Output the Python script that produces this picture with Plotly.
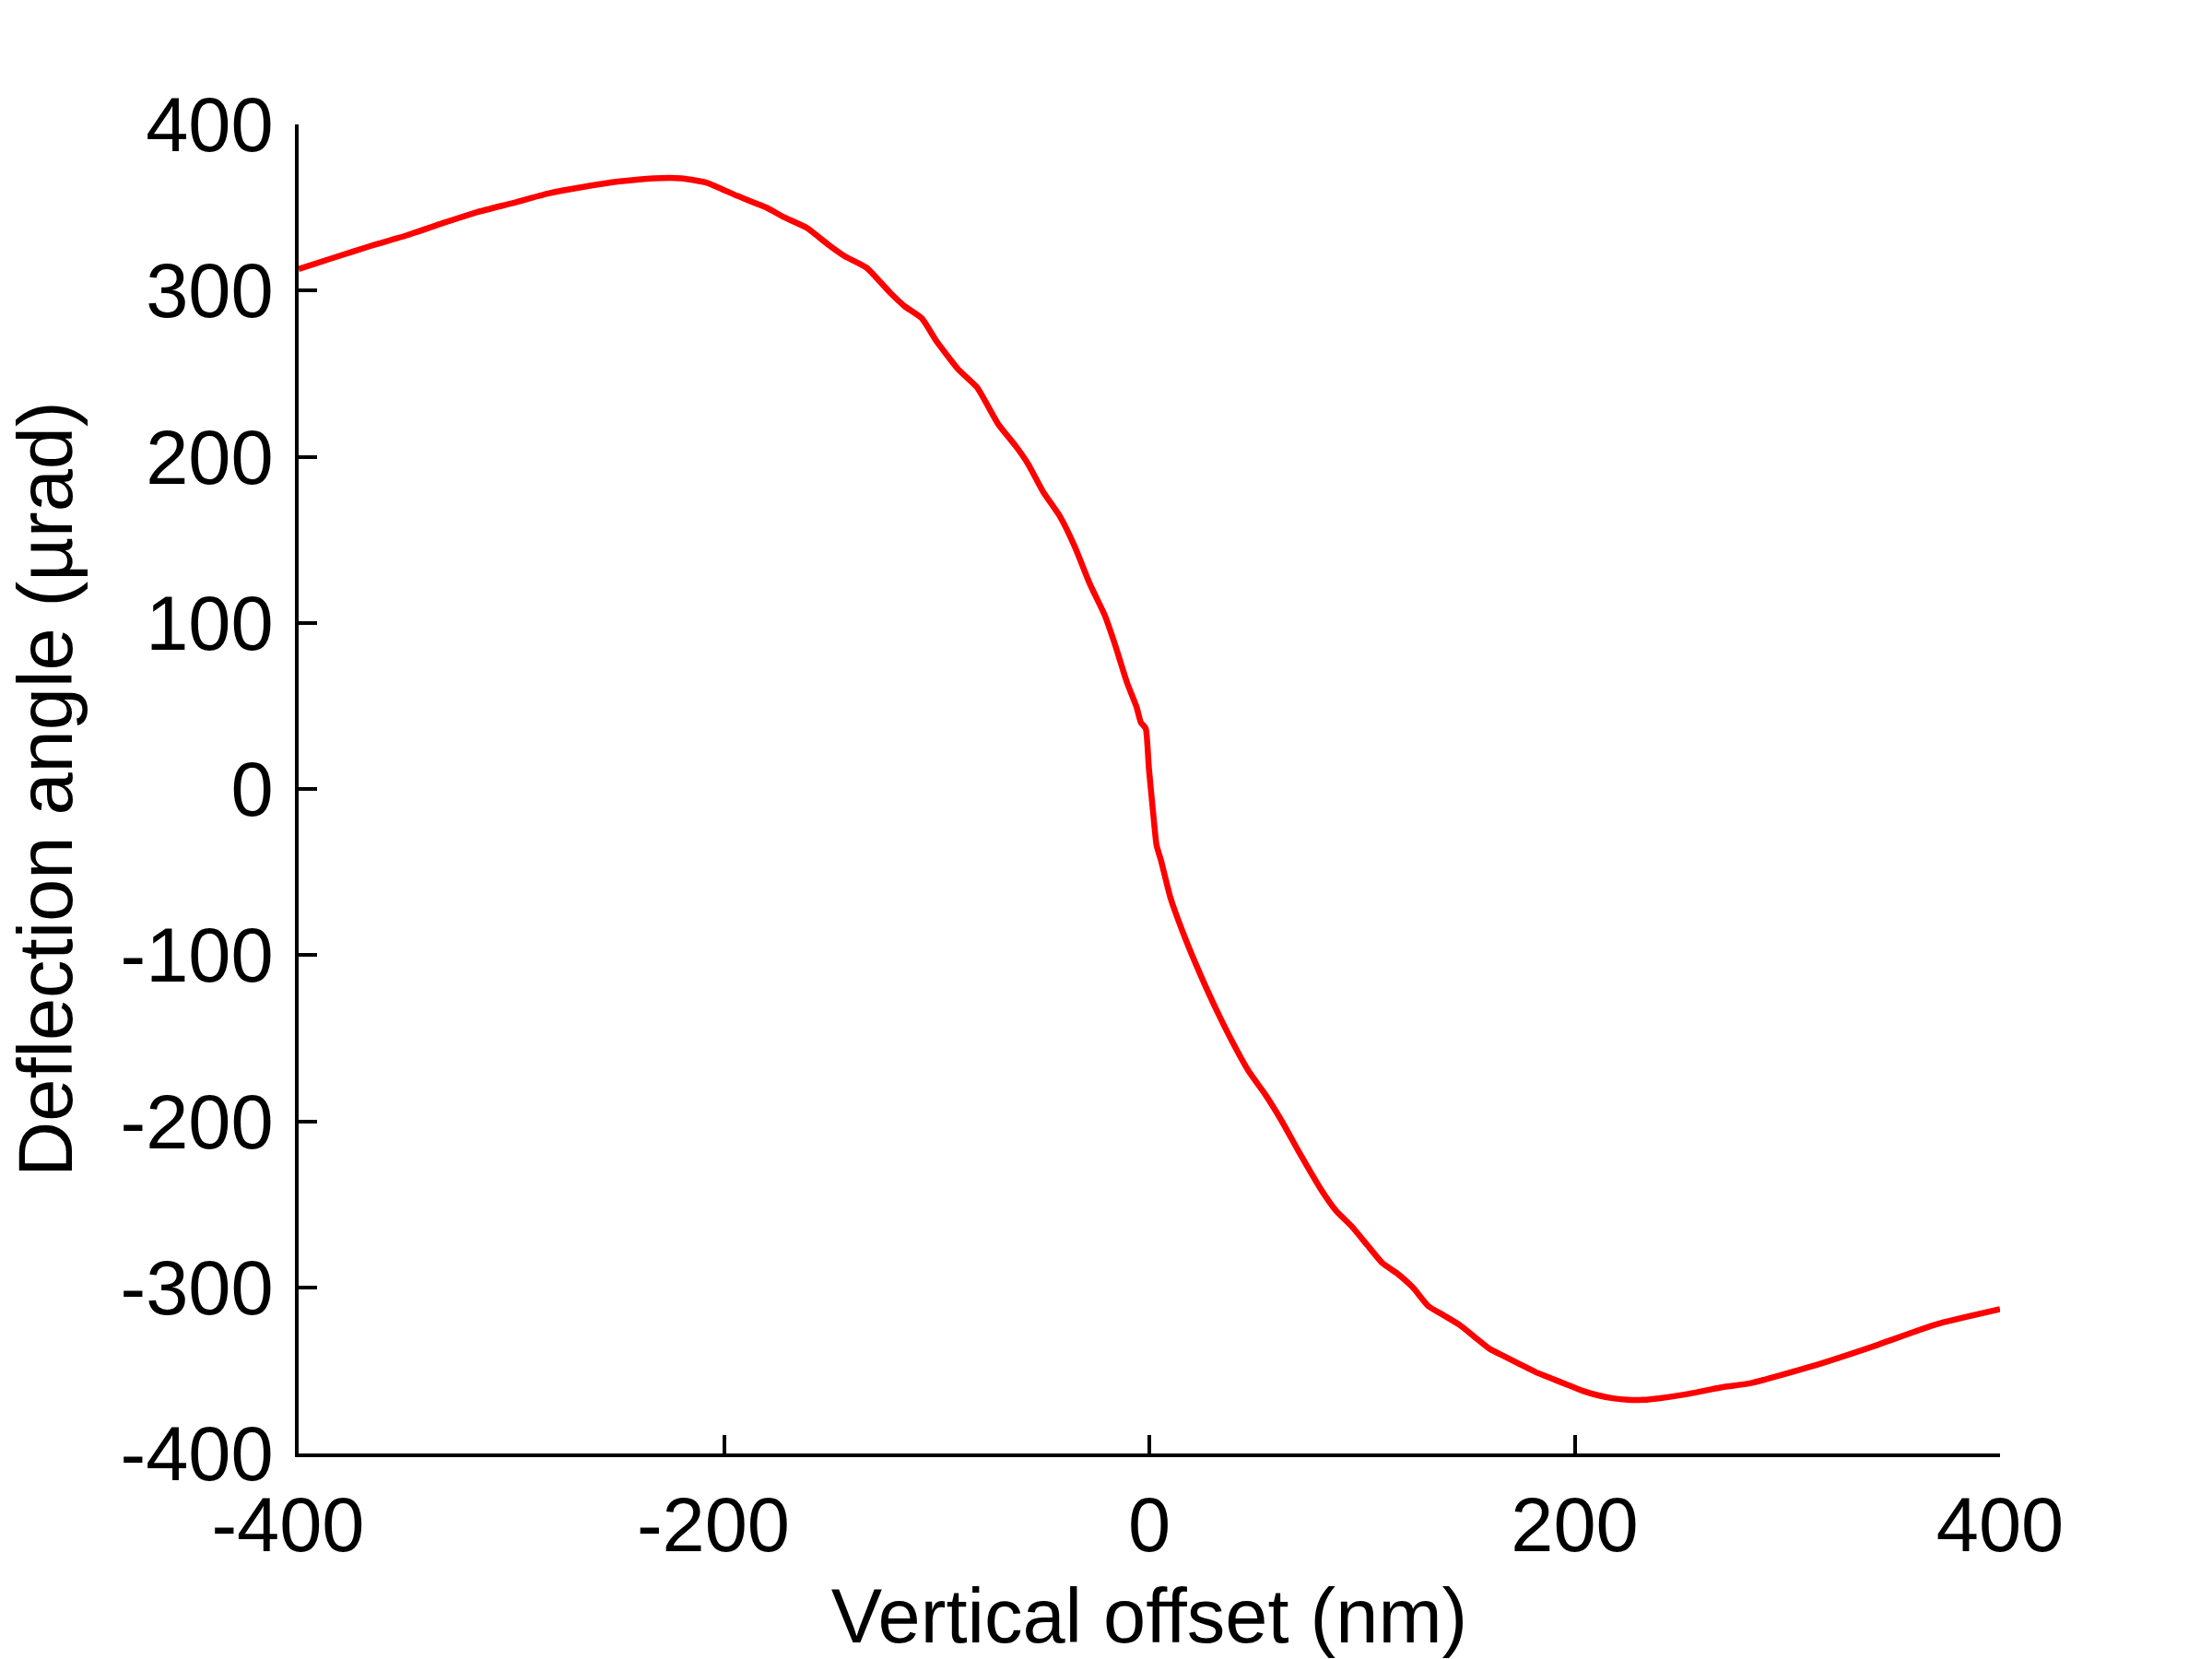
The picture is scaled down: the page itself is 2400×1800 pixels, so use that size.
import plotly.graph_objects as go

# Vertical offset (nm)
offset_nm = [-400, -382, -366, -349, -332, -316, -299, -283, -266, -249, -233, -220,
             -208, -194, -180, -172, -161, -151, -143, -133, -122, -115, -107, -100,
             -90, -81, -71, -63, -57, -50, -42, -35, -28, -21, -16, -10.5, -6, -4,
             -1.7, -0.2, 2, 3.4, 5.5, 9.9, 17, 24, 31.6, 39.2, 46.8, 54.4, 62, 70.5,
             80.7, 87.9, 95.1, 102.3, 109.6, 116.8, 124, 131.2, 138.5, 145.7, 152.9,
             160.2, 167.4, 174.6, 181.8, 189, 196.3, 203.5, 210.7, 218, 225.2, 232.4,
             239.6, 254.1, 268.5, 283, 311.9, 340.7, 369.7, 400]

# Deflection angle (µrad)
deflection_urad = [313, 320.4, 326.9, 333.3, 340.7, 347.2, 352.8, 358.3, 362.4, 365.7, 367.6, 367.6,
                   364.9, 357.1, 349.9, 344.3, 337.7, 327.7, 320.5, 313.8, 298.9, 290.5, 283.3, 269.4,
                   252.8, 241.7, 219.5, 206.7, 195.6, 179.0, 164.0, 145.7, 123.5, 104.7, 86.4, 64.1, 49.3, 40.1,
                   36.4, 12.4, -17.2, -33.9, -43.1, -65.3, -90.3, -111.7, -133.1, -152.6, -170.1, -183.7, -199.3, -218.8,
                   -241.0, -254.0, -263.2, -274.3, -285.4, -291.9, -300.2, -311.3, -316.9, -322.4, -329.8,
                   -337.2, -341.8, -346.5, -351.1, -354.8, -358.5, -362.2, -364.9, -366.8, -367.7, -367.7,
                   -366.8, -364.0, -360.3, -357.6, -347.4, -335.4, -322.4, -313.2]

x_ticks = [-400, -200, 0, 200, 400]
y_ticks = [-400, -300, -200, -100, 0, 100, 200, 300, 400]

FONT = "Liberation Sans, Arial, sans-serif"

# negative x labels sit slightly left of their tick in the reference
x_ticktext = [(str(v) + "\u00a0") if v < 0 else str(v) for v in x_ticks]

fig = go.Figure()
fig.add_trace(go.Scatter(x=offset_nm, y=deflection_urad, mode="lines",
                         line=dict(color="#FF0000", width=6.5, shape="spline", smoothing=0.5),
                         showlegend=False))

axis_common = dict(
    showgrid=False, zeroline=False, showline=True, linecolor="black", linewidth=3.5,
    ticks="inside", ticklen=20, tickwidth=3.5, tickcolor="black", mirror=False,
    tickfont=dict(family=FONT, size=83, color="black"),
)

fig.update_xaxes(range=[-400, 400], tickvals=x_ticks, ticktext=x_ticktext,
                 title=dict(text="Vertical offset (nm)", font=dict(family=FONT, size=83, color="black"),
                            standoff=26),
                 ticklabelstandoff=3, **axis_common)
fig.update_yaxes(range=[-400, 400], tickvals=y_ticks, ticktext=[str(v) for v in y_ticks],
                 title=dict(text="Deflection angle (µrad)", font=dict(family=FONT, size=83, color="black"),
                            standoff=25),
                 ticklabelstandoff=7, **axis_common)

fig.update_layout(
    width=2400, height=1800,
    margin=dict(l=324, r=230, t=135, b=223, autoexpand=False),
    paper_bgcolor="white", plot_bgcolor="white",
    font=dict(family=FONT, color="black"),
)

fig.write_html("out.html")
